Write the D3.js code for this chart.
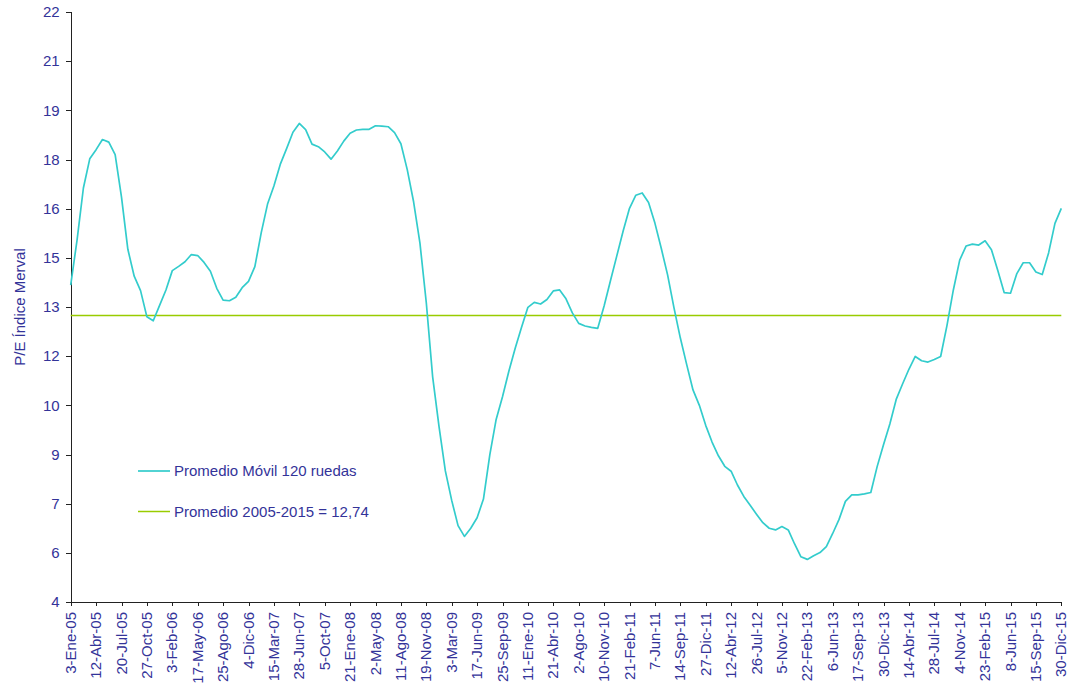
<!DOCTYPE html>
<html>
<head>
  <meta charset="utf-8">
  <title>P/E Merval</title>
  <script src="https://cdn.jsdelivr.net/npm/d3@7/dist/d3.min.js"></script>
  <style type="text/css">
  body {
    margin: 0;
    background: #fff;
  }
  svg text {
    font-family: "Liberation Sans", Arial, Helvetica, sans-serif;
    font-size: 15px;
    fill: #333399;
  }
  .axis path, .axis line {
    stroke: #222;
    stroke-width: 1;
    shape-rendering: crispEdges;
  }
  .pe-line {
    fill: none;
    stroke: #33cccc;
    stroke-width: 1.7;
    stroke-linejoin: round;
  }
  .avg-line {
    fill: none;
    stroke: #99cc00;
    stroke-width: 1.5;
  }
  </style>
</head>
<body>
  <div id="chart"></div>

<script>
// x axis categories (one label every N ruedas)
var xLabels = [
  "3-Ene-05", "12-Abr-05", "20-Jul-05", "27-Oct-05", "3-Feb-06", "17-May-06",
  "25-Ago-06", "4-Dic-06", "15-Mar-07", "28-Jun-07", "5-Oct-07", "21-Ene-08",
  "2-May-08", "11-Ago-08", "19-Nov-08", "3-Mar-09", "17-Jun-09", "25-Sep-09",
  "11-Ene-10", "21-Abr-10", "2-Ago-10", "10-Nov-10", "21-Feb-11", "7-Jun-11",
  "14-Sep-11", "27-Dic-11", "12-Abr-12", "26-Jul-12", "5-Nov-12", "22-Feb-13",
  "6-Jun-13", "17-Sep-13", "30-Dic-13", "14-Abr-14", "28-Jul-14", "4-Nov-14",
  "23-Feb-15", "8-Jun-15", "15-Sep-15", "30-Dic-15"
];

// moving average P/E, 4 samples per label interval
var samplesPerLabel = 4;
var peValues = [
  13.67, 15.04, 16.63, 17.52, 17.80, 18.11, 18.03, 17.65, 16.35, 14.76,
  13.94, 13.50, 12.70, 12.58, 13.05, 13.52, 14.11, 14.24, 14.38, 14.60,
  14.57, 14.36, 14.09, 13.57, 13.21, 13.19, 13.30, 13.59, 13.78, 14.23,
  15.26, 16.14, 16.69, 17.35, 17.83, 18.33, 18.60, 18.41, 17.97, 17.89,
  17.73, 17.51, 17.76, 18.06, 18.30, 18.40, 18.42, 18.42, 18.53, 18.52,
  18.50, 18.32, 17.98, 17.19, 16.21, 14.95, 13.13, 10.87, 9.36, 8.00,
  7.10, 6.33, 6.00, 6.25, 6.57, 7.14, 8.49, 9.57, 10.26, 11.04,
  11.74, 12.38, 12.99, 13.14, 13.09, 13.23, 13.49, 13.52, 13.25, 12.82,
  12.50, 12.42, 12.38, 12.35, 13.03, 13.80, 14.56, 15.32, 16.01, 16.41,
  16.48, 16.19, 15.56, 14.79, 13.98, 12.98, 12.06, 11.25, 10.47, 10.00,
  9.39, 8.88, 8.46, 8.14, 7.99, 7.57, 7.22, 6.95, 6.68, 6.42,
  6.25, 6.20, 6.30, 6.20, 5.77, 5.38, 5.30, 5.41, 5.51, 5.69,
  6.09, 6.52, 7.07, 7.27, 7.27, 7.30, 7.34, 8.13, 8.80, 9.43,
  10.18, 10.65, 11.10, 11.49, 11.36, 11.32, 11.40, 11.49, 12.44, 13.52,
  14.43, 14.86, 14.92, 14.89, 15.02, 14.75, 14.11, 13.44, 13.42, 14.02,
  14.35, 14.35, 14.07, 13.99, 14.65, 15.55, 16.01
];

var average = 12.74;

// excel-style ticks every 1.5, shown rounded
var yTicks = [4, 5.5, 7, 8.5, 10, 11.5, 13, 14.5, 16, 17.5, 19, 20.5, 22];

var seriesNames = ["Promedio Móvil 120 ruedas", "Promedio 2005-2015 = 12,74"];
var yTitle = "P/E Índice Merval";

var width = 1068,
    height = 683;
var margin = {top: 12, right: 6.7, bottom: 81, left: 70.7};

var svg = d3.select("#chart").append("svg")
            .attr("width", width)
            .attr("height", height);

var x = d3.scaleLinear()
          .domain([0, xLabels.length - 1])
          .range([margin.left, width - margin.right]);

var y = d3.scaleLinear()
          .domain([4, 22])
          .range([height - margin.bottom, margin.top]);

/* axes */
var yAxis = d3.axisLeft(y)
              .tickValues(yTicks)
              .tickSize(5)
              .tickPadding(6)
              .tickFormat(function(d) { return Math.round(d); });

svg.append("g")
   .attr("class", "axis y")
   .attr("transform", "translate(" + margin.left + ",0)")
   .call(yAxis)
   .call(function(g) { g.selectAll("text").attr("fill", null); });

var xAxis = d3.axisBottom(x)
              .tickValues(d3.range(xLabels.length))
              .tickSize(4)
              .tickFormat(function(i) { return xLabels[i]; });

svg.append("g")
   .attr("class", "axis x")
   .attr("transform", "translate(0," + (height - margin.bottom) + ")")
   .call(xAxis)
   .call(function(g) {
     g.selectAll("text")
      .attr("fill", null)
      .attr("text-anchor", "end")
      .attr("transform", "rotate(-90)")
      .attr("x", -10)
      .attr("y", 0)
      .attr("dy", "0.3em");
   });

// y title
svg.append("text")
   .attr("transform", "translate(20," + ((margin.top + height - margin.bottom) / 2) + ") rotate(-90)")
   .attr("text-anchor", "middle")
   .attr("dy", "0.35em")
   .text(yTitle);

/* series */
svg.append("line")
   .attr("class", "avg-line")
   .attr("x1", x(0))
   .attr("x2", x(xLabels.length - 1))
   .attr("y1", y(average))
   .attr("y2", y(average));

var line = d3.line()
             .x(function(d, i) { return x(i / samplesPerLabel); })
             .y(function(d) { return y(d); });

svg.append("path")
   .datum(peValues)
   .attr("class", "pe-line")
   .attr("d", line);

/* legend */
var legend = svg.append("g").attr("transform", "translate(138,471)");
var legendRows = legend.selectAll("g")
                       .data(seriesNames)
                       .enter().append("g")
                       .attr("transform", function(d, i) { return "translate(0," + (i * 40.5) + ")"; });

legendRows.append("line")
          .attr("class", function(d, i) { return i === 0 ? "pe-line" : "avg-line"; })
          .attr("x1", 0)
          .attr("x2", 32)
          .attr("y1", 0)
          .attr("y2", 0);

legendRows.append("text")
          .attr("x", 36)
          .attr("dy", "0.35em")
          .text(String);
</script>
</body>
</html>
